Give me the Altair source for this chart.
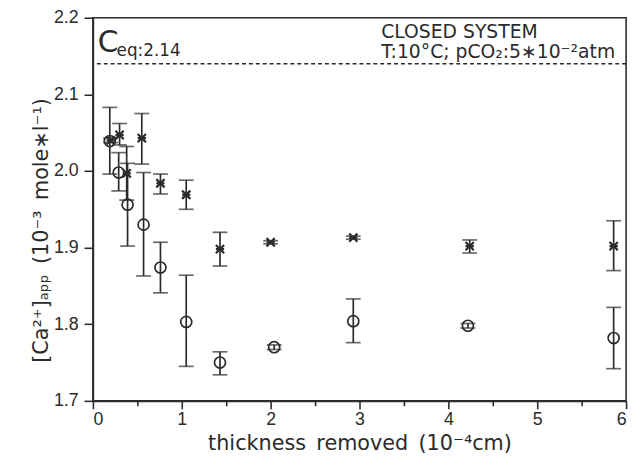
import altair as alt
import pandas as pd

# ---- data ----
circ_x = [0.19, 0.29, 0.39, 0.57, 0.76, 1.05, 1.43, 2.04, 2.93, 4.22, 5.86]
circ_y = [2.039, 1.998, 1.956, 1.930, 1.874, 1.803, 1.750, 1.770, 1.804, 1.798, 1.782]
circ_lo = [1.996, 1.974, 1.902, 1.863, 1.841, 1.745, 1.734, 1.767, 1.776, 1.795, 1.742]
circ_hi = [2.083, 2.024, 2.010, 1.998, 1.907, 1.864, 1.764, 1.773, 1.833, 1.801, 1.822]

star_x = [0.20, 0.30, 0.38, 0.55, 0.76, 1.05, 1.43, 2.00, 2.93, 4.24, 5.86]
star_y = [2.040, 2.047, 1.997, 2.043, 1.984, 1.969, 1.898, 1.907, 1.913, 1.902, 1.902]
star_lo = [2.037, 2.034, 1.962, 2.009, 1.970, 1.950, 1.876, 1.905, 1.911, 1.893, 1.870]
star_hi = [2.043, 2.062, 2.032, 2.075, 1.996, 1.988, 1.920, 1.909, 1.915, 1.910, 1.935]

c_eq = [2.14]

x_ticks = [0, 0.5, 1, 1.5, 2, 2.5, 3, 3.5, 4, 4.5, 5, 5.5, 6]
y_ticks = [1.7, 1.75, 1.8, 1.85, 1.9, 1.95, 2.0, 2.05, 2.1, 2.15, 2.2]

INK = "#2b2b2b"
FONT = "Liberation Sans"
TFONT = "DejaVu Sans"
SP = "\u2002"  # en space, keeps the wide word gaps of the original

circ = pd.DataFrame({"x": circ_x, "y": circ_y, "lo": circ_lo, "hi": circ_hi})
star = pd.DataFrame({"x": star_x, "y": star_y, "lo": star_lo, "hi": star_hi})
ceq = pd.DataFrame({"y": c_eq})

xscale = alt.Scale(domain=[0, 6], nice=False, zero=False)
yscale = alt.Scale(domain=[1.7, 2.2], nice=False, zero=False)

common = dict(
    grid=False, domainColor=INK, domainWidth=1.6, tickColor=INK, tickWidth=1.6,
    labelColor=INK, titleColor=INK, labelFont=FONT, titleFont=TFONT,
    labelFontSize=18, titleFontWeight="normal",
)

xaxis = alt.Axis(
    values=x_ticks,
    labelExpr="datum.value % 1 == 0 ? format(datum.value, 'd') : ''",
    tickSize={"condition": {"test": "datum.value % 1 == 0", "value": 8}, "value": 5},
    labelPadding=2,
    title=f"thickness{SP}removed{SP}(10⁻⁴cm)",
    titlePadding=4,
    titleFontSize=21,
    **common,
)
yaxis = alt.Axis(
    values=y_ticks,
    labelExpr="round(datum.value * 20) % 2 == 0 ? format(datum.value, '.1f') : ''",
    tickSize={"condition": {"test": "round(datum.value * 20) % 2 == 0", "value": 9}, "value": 6},
    labelPadding=6,
    title=f"[Ca²⁺]ₐₚₚ{SP}(10⁻³{SP}mole∗l⁻¹)",
    titleAngle=-90,
    titleX=-52,
    titleY=215,
    titleBaseline="middle",
    titleFontSize=21,
    **common,
)

X = alt.X("x:Q", scale=xscale, axis=xaxis)
Y = alt.Y("y:Q", scale=yscale, axis=yaxis)


def bars(df):
    rule = alt.Chart(df).mark_rule(color=INK, strokeWidth=1.7).encode(
        x=alt.X("x:Q", scale=xscale), y=alt.Y("lo:Q", scale=yscale), y2="hi:Q"
    )
    cap_lo = alt.Chart(df).mark_tick(color=INK, orient="horizontal", size=15, thickness=1.7).encode(
        x=alt.X("x:Q", scale=xscale), y=alt.Y("lo:Q", scale=yscale)
    )
    cap_hi = alt.Chart(df).mark_tick(color=INK, orient="horizontal", size=15, thickness=1.7).encode(
        x=alt.X("x:Q", scale=xscale), y=alt.Y("hi:Q", scale=yscale)
    )
    return rule + cap_lo + cap_hi


base = alt.Chart(circ).mark_point(
    shape="circle", size=125, filled=False, color=INK, strokeWidth=1.7, opacity=1
).encode(x=X, y=Y)

stars = alt.Chart(star).mark_point(
    shape="M-1,-1L1,1M-1,1L1,-1M-1,0L1,0", size=70, filled=False, color=INK,
    strokeWidth=2.2, opacity=1
).encode(x=alt.X("x:Q", scale=xscale), y=alt.Y("y:Q", scale=yscale))

dash = alt.Chart(ceq).mark_rule(color=INK, strokeWidth=1.4, strokeDash=[4, 3]).encode(
    y=alt.Y("y:Q", scale=yscale)
)

def label(text, x, y, size, align="left", baseline="middle"):
    return alt.Chart(pd.DataFrame({"t": [text]})).mark_text(
        align=align, baseline=baseline, font=TFONT, fontSize=size, color=INK
    ).encode(text="t:N", x=alt.value(x), y=alt.value(y))

texts = (
    label("C", 5, 26, 30)
    + label("eq:2.14", 24, 34, 17)
    + label("CLOSED SYSTEM", 292, 14, 19)
    + label("T:10°C;  pCO₂:5∗10⁻²atm", 292, 35, 19)
)

chart = (
    base + bars(circ) + bars(star) + stars + dash + texts
).properties(
    width=540, height=388,
    background="white",
    autosize=alt.AutoSizeParams(type="none"),
    padding={"left": 86, "top": 7, "right": 7, "bottom": 55},
).configure_view(
    stroke=INK, strokeWidth=1.6
)

chart.save("out.html", embed_options={"renderer": "svg", "actions": False})
